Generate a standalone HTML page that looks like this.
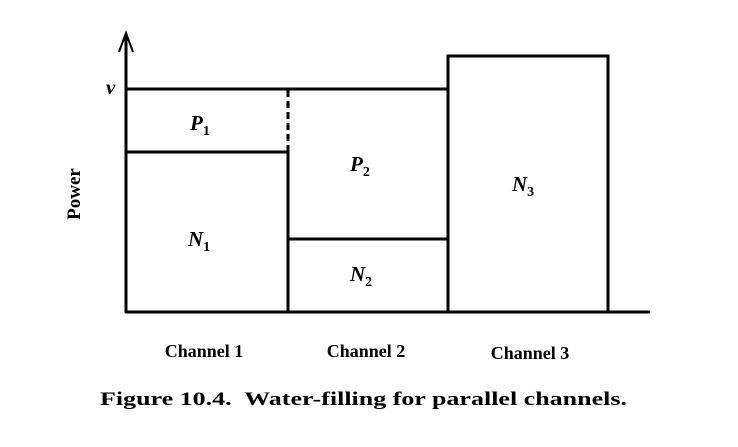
<!DOCTYPE html>
<html><head><meta charset="utf-8"><style>
html,body{margin:0;padding:0;background:#fff;}
svg{display:block;}
</style></head><body>
<svg width="738" height="447" viewBox="0 0 738 447" xmlns="http://www.w3.org/2000/svg">
<g stroke="#000" stroke-width="3" fill="none">
  <line x1="126" y1="313" x2="126" y2="34"/>
  <path d="M119 52 L126 33 L133 52" stroke-width="2"/>
  <line x1="125" y1="312" x2="650" y2="312"/>
  <line x1="126" y1="89" x2="448" y2="89"/>
  <line x1="126" y1="152" x2="288" y2="152"/>
  <line x1="288" y1="152" x2="288" y2="312"/>
  <line x1="288" y1="90" x2="288" y2="152" stroke-dasharray="7,4"/>
  <line x1="288" y1="239" x2="448" y2="239"/>
  <path d="M448 312 L448 56 L608 56 L608 312"/>
</g>
<g font-family="'Liberation Serif', serif" font-style="italic" font-weight="bold" font-size="21" fill="#000">
  <text x="190" y="130">P<tspan font-size="14" dy="5" font-style="normal">1</tspan></text>
  <text x="188" y="246">N<tspan font-size="14" dy="5" font-style="normal">1</tspan></text>
  <text x="350" y="171">P<tspan font-size="14" dy="5" font-style="normal">2</tspan></text>
  <text x="350" y="281">N<tspan font-size="14" dy="5" font-style="normal">2</tspan></text>
  <text x="512" y="191">N<tspan font-size="14" dy="5" font-style="normal">3</tspan></text>
  <text x="106" y="94">ν</text>
</g>
<g font-family="'Liberation Serif', serif" font-weight="bold" font-size="18" fill="#000" text-anchor="middle">
  <text x="204" y="357">Channel 1</text>
  <text x="366" y="357">Channel 2</text>
  <text x="530" y="359">Channel 3</text>
  <text transform="translate(80,194) rotate(-90)" font-size="19">Power</text>
</g>
<text x="100" y="405" font-family="'Liberation Serif', serif" font-weight="bold" font-size="19" fill="#000" textLength="527" lengthAdjust="spacingAndGlyphs" xml:space="preserve">Figure 10.4.  Water-filling for parallel channels.</text>
</svg>
</body></html>
